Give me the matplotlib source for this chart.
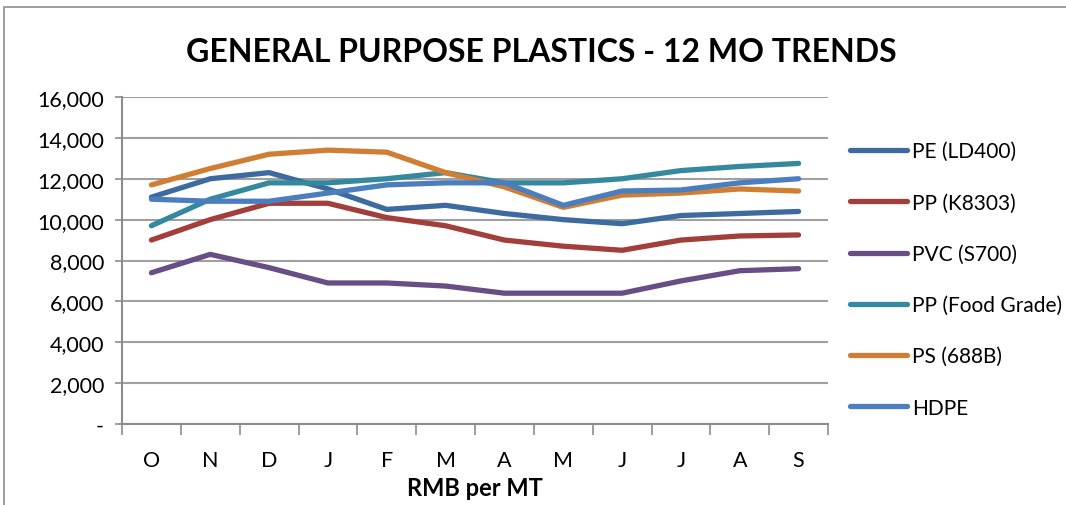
import numpy as np
import matplotlib.pyplot as plt
from matplotlib.ticker import FuncFormatter
from matplotlib.patches import Rectangle

plt.rcParams['font.family'] = ['Lato', 'DejaVu Sans']

months = ['O', 'N', 'D', 'J', 'F', 'M', 'A', 'M', 'J', 'J', 'A', 'S']

pe_ld400 = [11100, 12000, 12300, 11500, 10500, 10700, 10300, 10000, 9800, 10200, 10300, 10400]
pp_k8303 = [9000, 10000, 10800, 10800, 10100, 9700, 9000, 8700, 8500, 9000, 9200, 9250]
pvc_s700 = [7400, 8300, 7650, 6900, 6900, 6750, 6400, 6400, 6400, 7000, 7500, 7600]
pp_food = [9700, 11000, 11800, 11800, 12000, 12300, 11800, 11800, 12000, 12400, 12600, 12750]
ps_688b = [11700, 12500, 13200, 13400, 13300, 12300, 11600, 10600, 11200, 11300, 11500, 11400]
hdpe = [11000, 10900, 10900, 11300, 11700, 11800, 11800, 10700, 11400, 11450, 11800, 12000]

names = ['PE (LD400)', 'PP (K8303)', 'PVC (S700)', 'PP (Food Grade)', 'PS (688B)', 'HDPE']
colours = ['#3E6B9F', '#A33F3B', '#674E85', '#35899E', '#D07E33', '#4A7EBE']

fig = plt.figure(figsize=(10.66, 5.06), dpi=100)
# outer chart border
fig.patches.append(Rectangle((4 / 1066, -0.02), 1.1, 1 - 8 / 506 + 0.02,
                             transform=fig.transFigure, fill=False,
                             edgecolor='#8C8C8C', linewidth=1.2))

ax = fig.add_axes([122 / 1066, 1 - 425 / 506, (828 - 122) / 1066, (425 - 98) / 506])

x = np.arange(len(months))
for vals, name, col in zip([pe_ld400, pp_k8303, pvc_s700, pp_food, ps_688b, hdpe], names, colours):
    ax.plot(x, vals, color=col, linewidth=3.8, solid_capstyle='round',
            solid_joinstyle='round', label=name, zorder=3)

ax.set_xlim(-0.5, len(months) - 0.5)
ax.set_ylim(0, 16000)
ax.set_yticks(np.arange(0, 16001, 2000))
ax.yaxis.set_major_formatter(FuncFormatter(lambda v, p: '-' if v == 0 else f'{int(v):,}'))
ax.set_xticks(x)
ax.set_xticklabels(months)
ax.set_xticks(np.arange(-0.5, len(months), 1), minor=True)
ax.tick_params(axis='x', which='major', length=0, pad=19, labelsize=15.5)
ax.tick_params(axis='x', which='minor', length=8, color='#8C8C8C', width=1.2)
ax.tick_params(axis='y', length=5, color='#8C8C8C', width=1.2, labelsize=15.5, pad=8)

ax.grid(axis='y', color='#A0A0A0', linewidth=1.5, zorder=0)
for s in ['top', 'right']:
    ax.spines[s].set_visible(False)
for s in ['left', 'bottom']:
    ax.spines[s].set_color('#8C8C8C')
    ax.spines[s].set_linewidth(1.5)

ax.set_xlabel('RMB per MT', fontsize=17, fontweight='bold', labelpad=4)
fig.suptitle('GENERAL PURPOSE PLASTICS - 12 MO TRENDS', x=0.508, y=0.925,
             fontsize=23, fontweight='bold')

leg = ax.legend(loc='upper left', bbox_to_anchor=(1.02, 0.89), frameon=False,
                fontsize=15, handlelength=2.7, handletextpad=0.25,
                labelspacing=1.5, borderaxespad=0)

fig.savefig('out.png', dpi=100)
